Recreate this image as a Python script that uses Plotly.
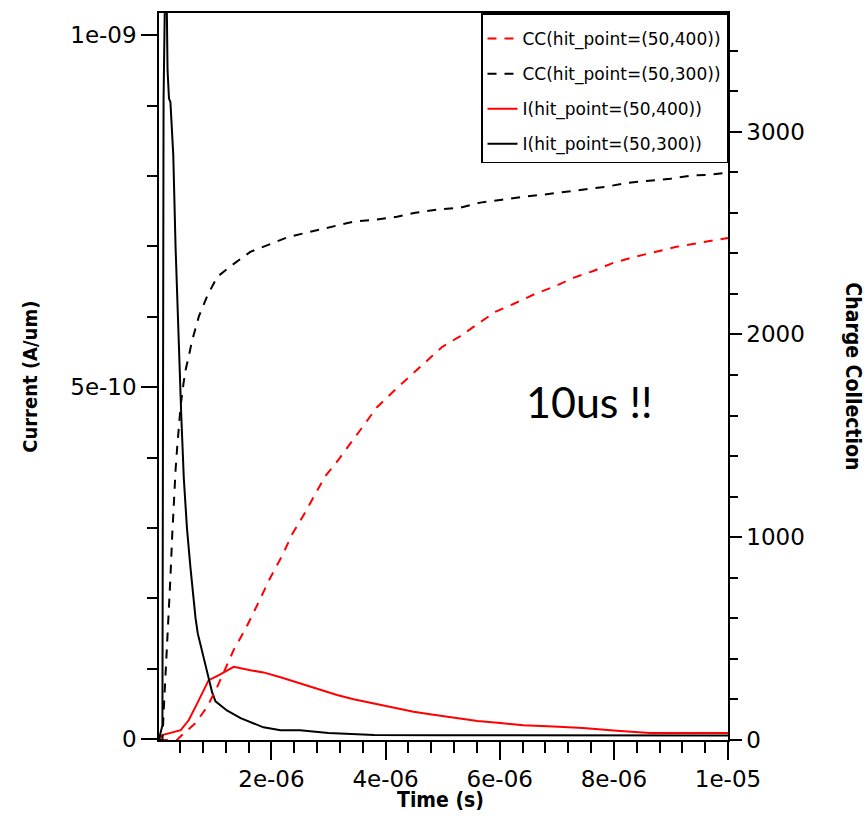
import numpy as np
import plotly.graph_objects as go

# ---- data (time in microseconds) ----
# I(hit_point=(50,300)) current, units 1e-9 A/um
t_i300 = [0.03, 0.09, 0.11, 0.15, 0.18, 0.205, 0.23, 0.28, 0.32, 0.37, 0.42, 0.465, 0.52,
          0.58, 0.63, 0.67, 0.71, 0.79, 0.875, 0.96, 1.02, 1.22, 1.46, 1.86, 2.16, 2.5,
          3.0, 3.8, 5.0, 7.0, 10.0]
i300 = [0.0, 0.02, 0.91, 1.15, 0.95, 0.91, 0.905, 0.83, 0.70, 0.57, 0.46, 0.37, 0.30,
        0.245, 0.20, 0.172, 0.15, 0.122, 0.095, 0.067, 0.054, 0.041, 0.030, 0.017, 0.013,
        0.0128, 0.009, 0.006, 0.0057, 0.0055, 0.0055]

# I(hit_point=(50,400)) current, units 1e-9 A/um
t_i400 = [0.03, 0.087, 0.41, 0.55, 0.70, 0.90, 1.08, 1.22, 1.34, 1.63, 1.86, 2.16, 2.51,
          2.86, 3.15, 3.44, 3.79, 4.08, 4.49, 4.84, 5.25, 5.61, 6.01, 6.41, 6.94, 7.46,
          8.05, 8.63, 10.0]
i400 = [0.0, 0.006, 0.013, 0.027, 0.051, 0.084, 0.091, 0.098, 0.103, 0.098, 0.095, 0.088,
        0.079, 0.070, 0.063, 0.057, 0.051, 0.046, 0.039, 0.035, 0.030, 0.026, 0.023, 0.020,
        0.018, 0.016, 0.012, 0.009, 0.009]

# CC(hit_point=(50,300)) charge collection
t_cc300 = [0.03, 0.09, 0.115, 0.144, 0.174, 0.20, 0.23, 0.26, 0.29, 0.32, 0.35, 0.38, 0.41,
           0.46, 0.50, 0.55, 0.61, 0.73, 0.875, 1.05, 1.34, 1.63, 1.98, 2.30, 2.68, 3.09,
           3.44, 3.79, 4.20, 4.52, 4.90, 5.31, 5.66, 6.04, 6.41, 6.76, 7.15, 7.50, 7.88,
           8.25, 8.60, 8.99, 9.34, 9.71, 10.0]
cc300 = [0, 0, 158, 311, 504, 643, 800, 1000, 1180, 1330, 1448, 1560, 1650,
         1760, 1830, 1890, 1970, 2090, 2190, 2284, 2348, 2407, 2447, 2481, 2506, 2531,
         2556, 2565, 2580, 2600, 2615, 2625, 2650, 2664, 2679, 2689, 2704, 2714, 2729,
         2748, 2758, 2768, 2783, 2788, 2798]

# CC(hit_point=(50,400)) charge collection
t_cc400 = [0.03, 0.35, 0.377, 0.67, 0.874, 1.05, 1.34, 1.55, 1.69, 1.84, 1.98, 2.19, 2.36,
           2.57, 2.77, 2.94, 3.18, 3.41, 3.62, 3.85, 4.14, 4.43, 4.70, 4.99, 5.31, 5.62,
           5.92, 6.24, 6.62, 6.94, 7.29, 7.64, 7.99, 8.37, 8.75, 9.10, 9.51, 9.89, 10.0]
cc400 = [0, 0, 10, 84, 163, 262, 445, 550, 630, 720, 800, 910, 1013,
         1112, 1211, 1300, 1384, 1473, 1557, 1641, 1720, 1794, 1864, 1938, 1992, 2051,
         2111, 2150, 2200, 2234, 2279, 2313, 2353, 2383, 2407, 2432, 2452, 2472, 2476]

x_tickvals = [2e-6, 4e-6, 6e-6, 8e-6, 1e-5]
x_ticktext = ["2e-06", "4e-06", "6e-06", "8e-06", "1e-05"]
y_tickvals = [0, 5e-10, 1e-9]
y_ticktext = ["0", "5e-10", "1e-09"]
y2_tickvals = [0, 1000, 2000, 3000]
y2_ticktext = ["0", "1000", "2000", "3000"]

US = 1e-6
NA = 1e-9

COND = "DejaVu Sans Condensed, Liberation Sans Narrow, DejaVu Sans"
TICKFONT = dict(family="DejaVu Sans", size=23, color="black")

fig = go.Figure()
fig.add_trace(go.Scatter(x=np.array(t_cc400) * US, y=cc400, yaxis="y2", mode="lines",
                         name="CC(hit_point=(50,400))", legendgroup="a",
                         line=dict(color="red", width=2, dash="9px,8px")))
fig.add_trace(go.Scatter(x=np.array(t_cc300) * US, y=cc300, yaxis="y2", mode="lines",
                         name="CC(hit_point=(50,300))", legendgroup="b",
                         line=dict(color="black", width=2, dash="9px,8px")))
fig.add_trace(go.Scatter(x=np.array(t_i400) * US, y=np.array(i400) * NA, mode="lines",
                         name="I(hit_point=(50,400))", legendgroup="c",
                         line=dict(color="red", width=2)))
fig.add_trace(go.Scatter(x=np.array(t_i300) * US, y=np.array(i300) * NA, mode="lines",
                         name="I(hit_point=(50,300))", legendgroup="d",
                         line=dict(color="black", width=2)))

fig.update_layout(
    width=867, height=837,
    margin=dict(l=159, r=139, t=13, b=97),
    paper_bgcolor="white", plot_bgcolor="white",
    showlegend=True,
    legend=dict(x=1, y=1, xanchor="right", yanchor="top",
                bgcolor="white", bordercolor="black", borderwidth=1.5,
                tracegroupgap=10, traceorder="grouped",
                title=dict(text="&nbsp;", font=dict(size=5)),
                font=dict(family="DejaVu Sans", size=17, color="black")),
    xaxis=dict(range=[0.03e-6, 1e-5], tickvals=x_tickvals, ticktext=x_ticktext,
               ticks="outside", ticklen=18, tickwidth=1.5, tickcolor="black",
               showline=True, linecolor="black", linewidth=1.5, mirror=True,
               showgrid=False, zeroline=False, tickfont=TICKFONT,
               minor=dict(dtick=4e-7, tick0=0, ticks="outside", ticklen=11,
                          tickwidth=1.5, tickcolor="black", showgrid=False)),
    yaxis=dict(range=[-0.001e-9, 1.0315e-9], tickvals=y_tickvals, ticktext=y_ticktext,
               ticks="outside", ticklen=16, tickwidth=1.5, tickcolor="black",
               showline=True, linecolor="black", linewidth=1.5,
               showgrid=False, zeroline=False, tickfont=TICKFONT,
               minor=dict(dtick=1e-10, tick0=0, ticks="outside", ticklen=10,
                          tickwidth=1.5, tickcolor="black", showgrid=False)),
    yaxis2=dict(range=[0, 3585], overlaying="y", side="right",
                tickvals=y2_tickvals, ticktext=y2_ticktext,
                ticks="outside", ticklen=12, tickwidth=1.5, tickcolor="black",
                showline=True, linecolor="black", linewidth=1.5,
                showgrid=False, zeroline=False, tickfont=TICKFONT,
                minor=dict(dtick=200, tick0=0, ticks="outside", ticklen=8,
                           tickwidth=1.5, tickcolor="black", showgrid=False)),
    annotations=[
        dict(text="<b>Time (s)</b>", xref="paper", yref="paper", x=0.495, y=-0.082,
             xanchor="center", yanchor="middle", showarrow=False,
             font=dict(family=COND, size=21, color="black")),
        dict(text="<b>Current (A/um)</b>", xref="paper", yref="paper", x=-0.228, y=0.5,
             xanchor="center", yanchor="middle", textangle=-90, showarrow=False,
             font=dict(family=COND, size=20, color="black")),
        dict(text="<b>Charge Collection</b>", xref="paper", yref="paper", x=1.22, y=0.5,
             xanchor="center", yanchor="middle", textangle=90, showarrow=False,
             font=dict(family=COND, size=21, color="black")),
        dict(text="10us !!", xref="paper", yref="paper", x=0.757, y=0.465,
             xanchor="center", yanchor="middle", showarrow=False,
             font=dict(family="Lato, Open Sans, sans-serif", size=43, color="black")),
    ],
)

fig.write_html("out.html")
